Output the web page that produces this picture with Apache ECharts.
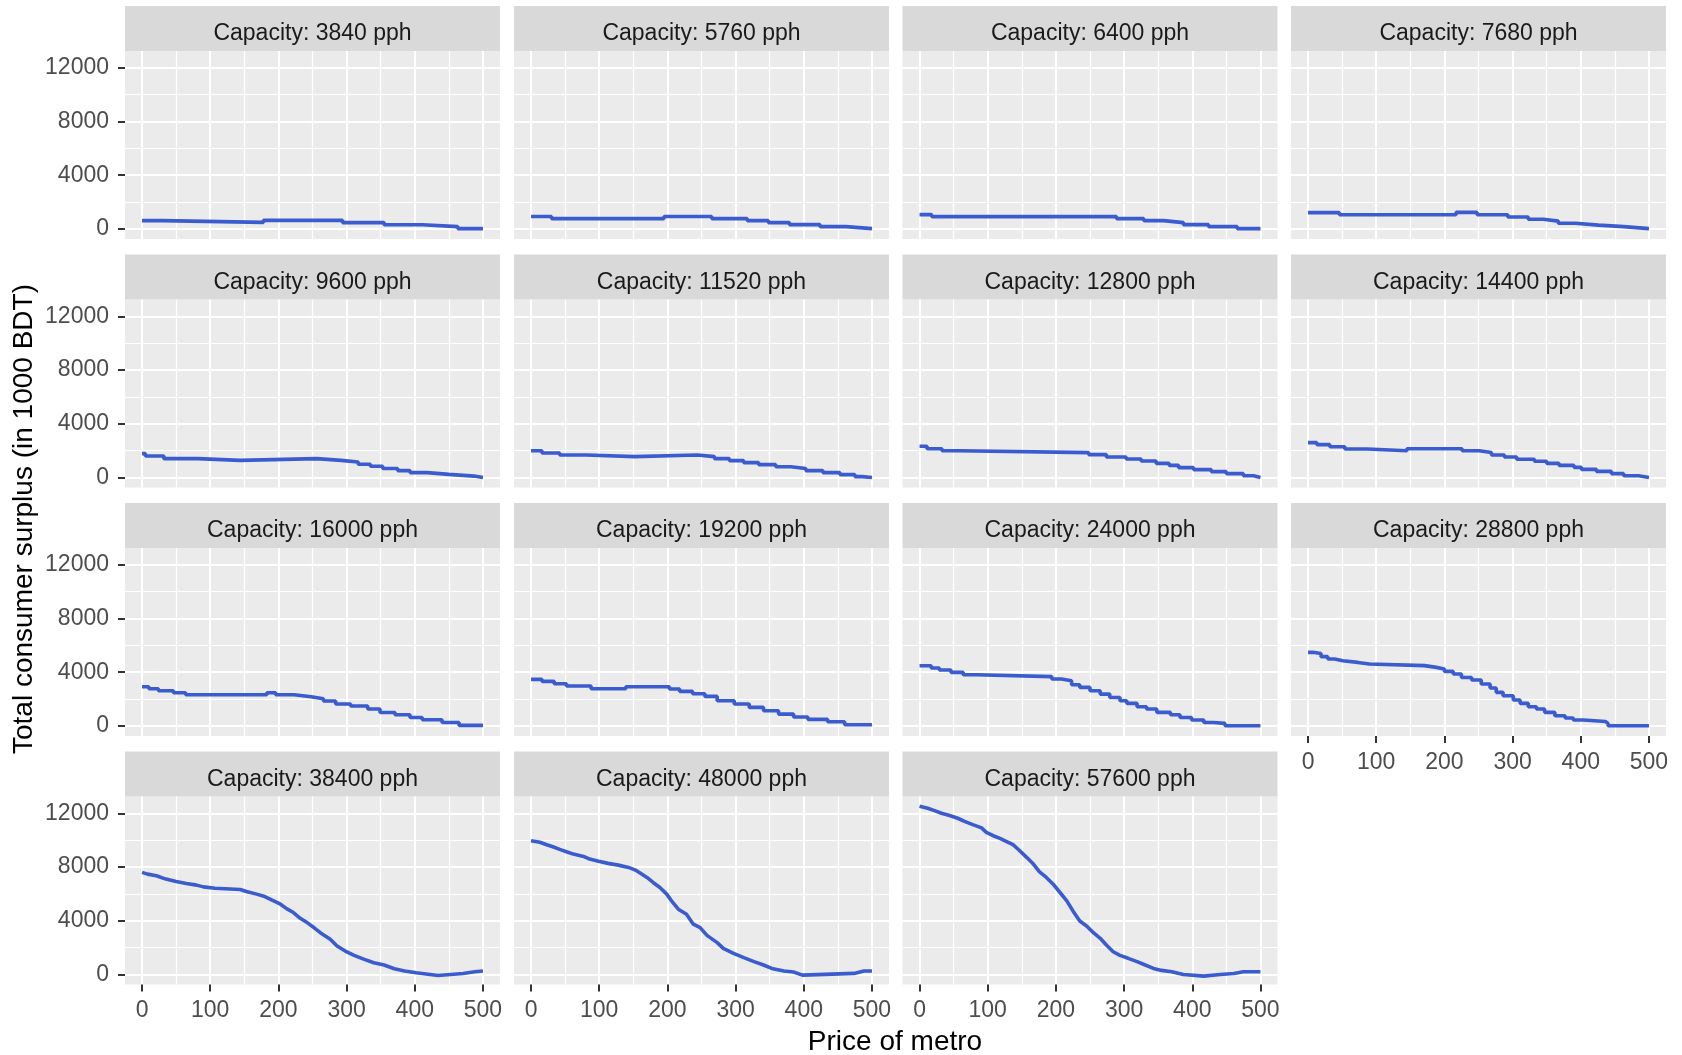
<!DOCTYPE html>
<html>
<head>
<meta charset="utf-8">
<script src="https://cdn.jsdelivr.net/npm/echarts@6/dist/echarts.min.js"></script>
<style>html,body{margin:0;padding:0;background:#fff}#main{width:1682px;height:1055px}</style>
</head>
<body>
<div id="main"></div>
<script>
// ---- data (price of metro, total consumer surplus in 1000 BDT) ----
const capacities = [3840, 5760, 6400, 7680, 9600, 11520, 12800, 14400, 16000, 19200, 24000, 28800, 38400, 48000, 57600];
const cs3840 = [[0,615],[30,485],[178,640],[294,470],[355,310],[411,175],[463,25],[500,25]];
const cs5760 = [[0,920],[30,770],[195,920],[265,770],[317,620],[348,470],[379,320],[424,170],[462,22],[500,22]];
const cs6400 = [[0,1065],[18,916],[289,767],[329,618],[358,470],[387,320],[424,171],[466,22],[500,22]];
const cs7680 = [[0,1214],[46,1054],[217,1229],[248,1054],[293,893],[323,718],[345,582],[367,421],[392,284],[426,172],[463,24],[500,24]];
const cs9600 = [[0,1770],[5,1600],[32,1400],[82,1270],[144,1400],[256,1270],[292,1150],[317,980],[335,830],[353,660],[375,510],[393,360],[418,230],[450,100],[487,0],[500,0]];
const cs11520 = [[0,1990],[16,1820],[42,1670],[81,1550],[152,1670],[244,1550],[269,1400],[291,1250],[312,1100],[334,950],[359,800],[381,660],[403,510],[428,360],[453,210],[475,60],[486,0],[500,0]];
const cs12800 = [[0,2320],[11,2140],[33,1990],[58,1850],[248,1700],[274,1520],[303,1370],[325,1220],[347,1050],[366,900],[380,730],[402,580],[428,430],[450,280],[475,130],[490,0],[500,0]];
const cs14400 = [[0,2590],[13,2440],[32,2290],[54,2120],[87,1990],[145,2140],[226,1990],[251,1850],[269,1670],[288,1520],[306,1350],[332,1200],[350,1050],[368,900],[390,750],[401,600],[423,450],[445,280],[463,130],[485,0],[500,0]];
const cs16000 = [[0,2920],[10,2770],[24,2620],[46,2470],[64,2320],[183,2470],[196,2320],[223,2175],[248,2030],[266,1855],[284,1630],[306,1480],[331,1260],[349,1000],[371,830],[393,630],[411,460],[440,260],[465,40],[500,40]];
const cs19200 = [[0,3470],[16,3320],[34,3140],[52,2970],[88,2770],[139,2920],[203,2750],[218,2570],[237,2400],[255,2200],[273,1880],[298,1630],[320,1380],[341,1130],[363,880],[385,660],[406,490],[435,310],[460,90],[500,90]];
const cs24000 = [[0,4480],[17,4310],[29,4160],[46,3990],[64,3810],[83,3670],[194,3490],[208,3370],[223,3070],[235,2870],[250,2620],[265,2370],[279,2120],[294,1880],[304,1680],[319,1430],[333,1260],[348,1010],[368,830],[382,630],[399,440],[417,260],[431,190],[448,15],[500,15]];
const cs28800 = [[0,5480],[7,5400],[19,5160],[29,4980],[39,4860],[51,4730],[73,4610],[90,4490],[171,4360],[188,4240],[200,4060],[213,3870],[225,3610],[240,3420],[254,3120],[267,2820],[276,2500],[286,2250],[301,1930],[311,1680],[323,1430],[335,1260],[347,1010],[362,760],[377,590],[389,440],[404,335],[436,190],[440,15],[500,15]];
const cs38400 = [[0,7600],[8,7470],[21,7350],[35,7100],[50,6920],[65,6770],[80,6650],[90,6520],[107,6420],[144,6330],[153,6180],[168,5980],[180,5800],[190,5550],[203,5230],[212,4900],[222,4610],[232,4180],[242,3860],[252,3490],[262,3090],[276,2620],[286,2120],[298,1740],[311,1420],[326,1120],[340,870],[355,700],[370,420],[385,250],[402,125],[434,-75],[471,75],[488,200],[500,250]];
const cs48000 = [[0,9960],[13,9840],[23,9660],[32,9510],[42,9310],[52,9140],[62,8960],[77,8790],[86,8590],[99,8420],[113,8270],[128,8140],[143,7970],[153,7770],[160,7550],[170,7220],[179,6850],[189,6470],[199,5980],[206,5480],[216,4860],[228,4480],[238,3740],[248,3490],[258,2910],[273,2370],[282,1940],[297,1570],[312,1250],[327,950],[341,700],[353,450],[371,250],[385,175],[398,-50],[474,75],[488,250],[500,250]];
const cs57600 = [[0,12530],[12,12380],[22,12200],[32,12000],[44,11830],[56,11630],[66,11400],[78,11160],[91,10910],[98,10580],[108,10330],[118,10130],[127,9910],[137,9660],[147,9210],[157,8720],[167,8220],[176,7640],[186,7220],[196,6720],[206,6100],[216,5480],[225,4730],[235,3980],[245,3610],[255,3110],[265,2690],[274,2190],[284,1690],[294,1420],[306,1200],[319,950],[331,700],[343,450],[355,300],[370,200],[387,0],[417,-125],[441,0],[461,75],[475,200],[500,200]];
const panelData = [cs3840, cs5760, cs6400, cs7680, cs9600, cs11520, cs12800, cs14400, cs16000, cs19200, cs24000, cs28800, cs38400, cs48000, cs57600];

const xTicks = [0, 100, 200, 300, 400, 500];
const xMinor = [50, 150, 250, 350, 450];
const yTicks = [0, 4000, 8000, 12000];
const yMinor = [2000, 6000, 10000];
const xTitle = 'Price of metro';
const yTitle = 'Total consumer surplus (in 1000 BDT)';

// ---- layout ----
const FONT = '"Liberation Sans", Arial, sans-serif';
const colLeft = [125, 514, 902.5, 1291];
const rowTop = [51, 299.5, 548, 796.5];
const PW = 375, PH = 188, SH = 45;
const bottomPanels = [11, 12, 13, 14];
const smoothPanels = [12, 13, 14];
const LINE = '#3B5CCE';

const grids = [], xAxes = [], yAxes = [], series = [], graphics = [];
capacities.forEach((cap, i) => {
  const row = Math.floor(i / 4), col = i % 4;
  const left = colLeft[col], top = rowTop[row];
  const isBottom = bottomPanels.includes(i), isLeft = col === 0;
  grids.push({left: left, top: top, width: PW, height: PH, show: true, backgroundColor: '#EBEBEB', borderWidth: 0, containLabel: false, outerBoundsMode: 'none'});
  // major x
  xAxes.push({type: 'value', gridIndex: i, min: -25, max: 525, position: 'bottom',
    axisLine: {show: false, onZero: false},
    axisTick: {show: isBottom, customValues: xTicks, length: 7, lineStyle: {color: '#333333', width: 2}},
    axisLabel: {show: isBottom, customValues: xTicks, color: '#4D4D4D', fontSize: 23, fontFamily: FONT, margin: 15},
    splitLine: {show: true, lineStyle: {color: '#FFFFFF', width: 2}}});
  // minor x
  xAxes.push({type: 'value', gridIndex: i, min: -25, max: 525, position: 'bottom',
    axisLine: {show: false, onZero: false},
    axisTick: {show: false, customValues: xMinor},
    axisLabel: {show: false},
    splitLine: {show: true, lineStyle: {color: '#FFFFFF', width: 1.2}}});
  // major y
  yAxes.push({type: 'value', gridIndex: i, min: -750, max: 13250, position: 'left',
    axisLine: {show: false, onZero: false},
    axisTick: {show: isLeft, customValues: yTicks, length: 7, lineStyle: {color: '#333333', width: 2}},
    axisLabel: {show: isLeft, customValues: yTicks, color: '#4D4D4D', fontSize: 23, fontFamily: FONT, margin: 16,
      formatter: v => String(v)},
    splitLine: {show: true, lineStyle: {color: '#FFFFFF', width: 2}}});
  // minor y
  yAxes.push({type: 'value', gridIndex: i, min: -750, max: 13250, position: 'left',
    axisLine: {show: false, onZero: false},
    axisTick: {show: false, customValues: yMinor},
    axisLabel: {show: false},
    splitLine: {show: true, lineStyle: {color: '#FFFFFF', width: 1.2}}});
  series.push({type: 'line', xAxisIndex: 2 * i, yAxisIndex: 2 * i, data: panelData[i],
    step: smoothPanels.includes(i) ? false : 'end',
    showSymbol: false, symbol: 'none', silent: true, z: 5,
    lineStyle: {color: LINE, width: 3.6}});
  // facet strip
  graphics.push({type: 'rect', silent: true, shape: {x: left, y: top - SH, width: PW, height: SH}, style: {fill: '#D9D9D9'}});
  graphics.push({type: 'text', silent: true, x: left + PW / 2, y: top - SH / 2 + 5.5,
    style: {text: 'Capacity: ' + cap + ' pph', fill: '#1A1A1A', font: '23px ' + FONT, textAlign: 'center', textVerticalAlign: 'middle'}});
});
graphics.push({type: 'text', silent: true, x: 895, y: 1042,
  style: {text: xTitle, fill: '#000000', font: '28px ' + FONT, textAlign: 'center', textVerticalAlign: 'middle'}});
graphics.push({type: 'text', silent: true, x: 24, y: 519, rotation: Math.PI / 2,
  style: {text: yTitle, fill: '#000000', font: '28px ' + FONT, textAlign: 'center', textVerticalAlign: 'middle'}});

const chart = echarts.init(document.getElementById('main'), null, {renderer: 'canvas'});
chart.setOption({
  animation: false,
  backgroundColor: '#FFFFFF',
  grid: grids,
  xAxis: xAxes,
  yAxis: yAxes,
  series: series,
  graphic: graphics
});
</script>
</body>
</html>
